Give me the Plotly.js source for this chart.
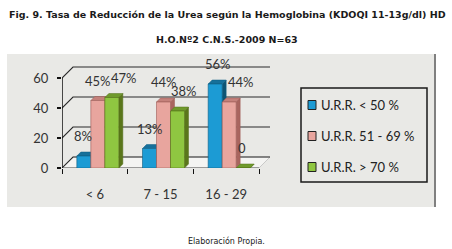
<!DOCTYPE html>
<html><head><meta charset="utf-8">
<script src="https://cdn.plot.ly/plotly-3.0.1.min.js"></script>
<style>html,body{margin:0;padding:0;background:#fff}#chart{width:452px;height:249px}</style>
</head><body><div id="chart"></div>
<script>
// ---- data ----
const categories = ["< 6", "7 - 15", "16 - 29"];
const seriesNames = ["U.R.R. < 50 %", "U.R.R. 51 - 69 %", "U.R.R. > 70 %"];
const urrBelow50 = [8, 13, 56];
const urr51to69 = [45, 44, 44];
const urrAbove70 = [47, 38, 0];
const yTickValues = [0, 20, 40, 60];
const titleLine1 = "Fig. 9. Tasa de Reducción de la Urea según la Hemoglobina (KDOQI 11-13g/dl) HD";
const titleLine2 = "H.O.Nº2 C.N.S.-2009 N=63";
const sourceNote = "Elaboración Propia.";

// ---- style ----
const series = [urrBelow50, urr51to69, urrAbove70];
const frontColors = ['#1c9bd4', '#e8a59e', '#8fc641'];
const edgeColors = ['#0f5e82', '#9c5a55', '#55701a'];
const topColors = ['#16709a', '#c4817b', '#6f9a2c'];
const sideColors = ['#0e5574', '#a9655f', '#5a761b'];
const labelXShift = [[-1, 0, 3], [0, 0, 12], [12, 6, -1]]; // [series][category] px
const W = 452, H = 249, M = {l: 62, r: 182, t: 64, b: 81};
const plotW = W - M.l - M.r, plotH = H - M.t - M.b;
const wallDepth = 11, barDepth = 4, barPx = 14, barShiftPx = 3;
const catPx = (plotW - wallDepth) / categories.length;
const pxPerUnit = 1.5;
const yMax = plotH / pxPerUnit;
const xMin = -0.5, xEnd = categories.length - 0.5;
const xMax = xEnd + wallDepth / catPx;
const wdx = wallDepth / catPx, wdy = wallDepth / pxPerUnit;
const bdx = barDepth / catPx, bdy = barDepth / pxPerUnit;
const bw = barPx / catPx, bshift = barShiftPx / catPx;
const px2x = p => (p - M.l) / plotW;
const py2y = p => (H - M.b - p) / plotH;
const fontLabel = 'Lato, "Open Sans", sans-serif';
const fontTitle = '"DejaVu Sans", Verdana, sans-serif';

const traces = series.map((vals, j) => ({
  type: 'bar', x: categories, y: vals, name: seriesNames[j],
  width: bw, offset: -1.5 * bw + j * bw + bshift,
  marker: {color: frontColors[j], line: {width: 0.6, color: edgeColors[j]}},
  showlegend: false, hoverinfo: 'none'
}));

const shapes = [];
// grey chart area
shapes.push({type: 'rect', xref: 'paper', yref: 'paper', x0: px2x(7), x1: px2x(434), y0: py2y(207), y1: py2y(54),
  fillcolor: '#e9e9e6', line: {width: 0}, layer: 'below'});
shapes.push({type: 'line', xref: 'paper', yref: 'paper', x0: px2x(435), x1: px2x(435), y0: py2y(207), y1: py2y(54),
  line: {color: '#808080', width: 2}, layer: 'below'});
// floor
shapes.push({type: 'path', xref: 'x', yref: 'y',
  path: `M${xMin},0 L${xEnd},0 L${xEnd + wdx},${wdy} L${xMin + wdx},${wdy} Z`,
  fillcolor: '#f4f4f2', line: {color: '#b0b0b0', width: 0.6}, layer: 'below'});
// wall gridlines
yTickValues.forEach(v => {
  shapes.push({type: 'path', xref: 'x', yref: 'y',
    path: `M${xMin},${v} L${xMin + wdx},${v + wdy} L${xMax},${v + wdy}`,
    line: {color: '#2a2a2a', width: 1.1}, layer: 'below'});
});
// front floor edge
shapes.push({type: 'line', xref: 'x', yref: 'y', x0: xMin, x1: xEnd, y0: 0, y1: 0,
  line: {color: '#555', width: 1}, layer: 'below'});
// bar depth faces
series.forEach((vals, j) => {
  vals.forEach((v, i) => {
    const left = i - 1.5 * bw + j * bw + bshift, right = left + bw;
    shapes.push({type: 'path', xref: 'x', yref: 'y',
      path: `M${right},0 L${right},${v} L${right + bdx},${v + bdy} L${right + bdx},${bdy} Z`,
      fillcolor: sideColors[j], line: {width: 0.5, color: edgeColors[j]}, layer: 'below'});
    shapes.push({type: 'path', xref: 'x', yref: 'y',
      path: `M${left},${v} L${right},${v} L${right + bdx},${v + bdy} L${left + bdx},${v + bdy} Z`,
      fillcolor: topColors[j], line: {width: 0.5, color: edgeColors[j]}, layer: 'below'});
  });
});
// front y axis line
shapes.push({type: 'line', xref: 'x', yref: 'y', x0: xMin, x1: xMin, y0: 0, y1: yTickValues[yTickValues.length - 1],
  line: {color: '#111', width: 1.5}, layer: 'above'});
// legend box
shapes.push({type: 'rect', xref: 'paper', yref: 'paper', x0: px2x(301), x1: px2x(427), y0: py2y(182), y1: py2y(88),
  fillcolor: 'rgba(0,0,0,0)', line: {color: '#1a1a1a', width: 1.5}, layer: 'above'});
const legendY = [105, 136, 167];
const annotations = [];
seriesNames.forEach((nm, j) => {
  shapes.push({type: 'rect', xref: 'paper', yref: 'paper', x0: px2x(308), x1: px2x(316),
    y0: py2y(legendY[j] + 4.5), y1: py2y(legendY[j] - 4.5),
    fillcolor: frontColors[j], line: {color: '#222', width: 1}, layer: 'above'});
  annotations.push({xref: 'paper', yref: 'paper', x: px2x(319), y: py2y(legendY[j]), xanchor: 'left', yanchor: 'middle',
    text: nm, showarrow: false, font: {family: fontLabel, size: 13, color: '#222'}});
});
// value labels
series.forEach((vals, j) => {
  vals.forEach((v, i) => {
    annotations.push({xref: 'x', yref: 'y', x: i - 1.5 * bw + j * bw + bshift + bw / 2, y: v,
      yshift: 20, xshift: labelXShift[j][i], xanchor: 'center', yanchor: 'middle',
      text: v === 0 ? '0' : v + '%', showarrow: false, font: {family: fontLabel, size: 13, color: '#333'}});
  });
});
// titles
annotations.push({xref: 'paper', yref: 'paper', x: px2x(227), y: py2y(15), xanchor: 'center', yanchor: 'middle',
  text: '<b>' + titleLine1 + '</b>', showarrow: false, font: {family: fontTitle, size: 9.5, color: '#1a1a1a'}});
annotations.push({xref: 'paper', yref: 'paper', x: px2x(227), y: py2y(40), xanchor: 'center', yanchor: 'middle',
  text: '<b>' + titleLine2 + '</b>', showarrow: false, font: {family: fontTitle, size: 9.5, color: '#1a1a1a'}});
annotations.push({xref: 'paper', yref: 'paper', x: px2x(226), y: py2y(241), xanchor: 'center', yanchor: 'middle',
  text: sourceNote, showarrow: false, font: {family: fontTitle, size: 8, color: '#1a1a1a'}});

const layout = {
  width: W, height: H, margin: M,
  paper_bgcolor: '#ffffff', plot_bgcolor: 'rgba(0,0,0,0)',
  barmode: 'overlay', showlegend: false,
  xaxis: {type: 'category', range: [xMin, xMax], showgrid: false, zeroline: false, showline: false,
    ticks: 'outside', tickson: 'boundaries', ticklen: 5, tickcolor: '#111', tickwidth: 1,
    ticklabelstandoff: 17, tickfont: {family: fontLabel, size: 13, color: '#333'}, fixedrange: true},
  yaxis: {range: [0, yMax], tickvals: yTickValues, showgrid: false, zeroline: false, showline: false,
    ticks: 'outside', ticklen: 4, tickcolor: '#111', tickwidth: 1.5, ticklabelstandoff: 6,
    tickfont: {family: fontLabel, size: 13, color: '#333'}, fixedrange: true},
  shapes: shapes, annotations: annotations
};
Plotly.newPlot('chart', traces, layout, {displayModeBar: false, staticPlot: true});
</script></body></html>
